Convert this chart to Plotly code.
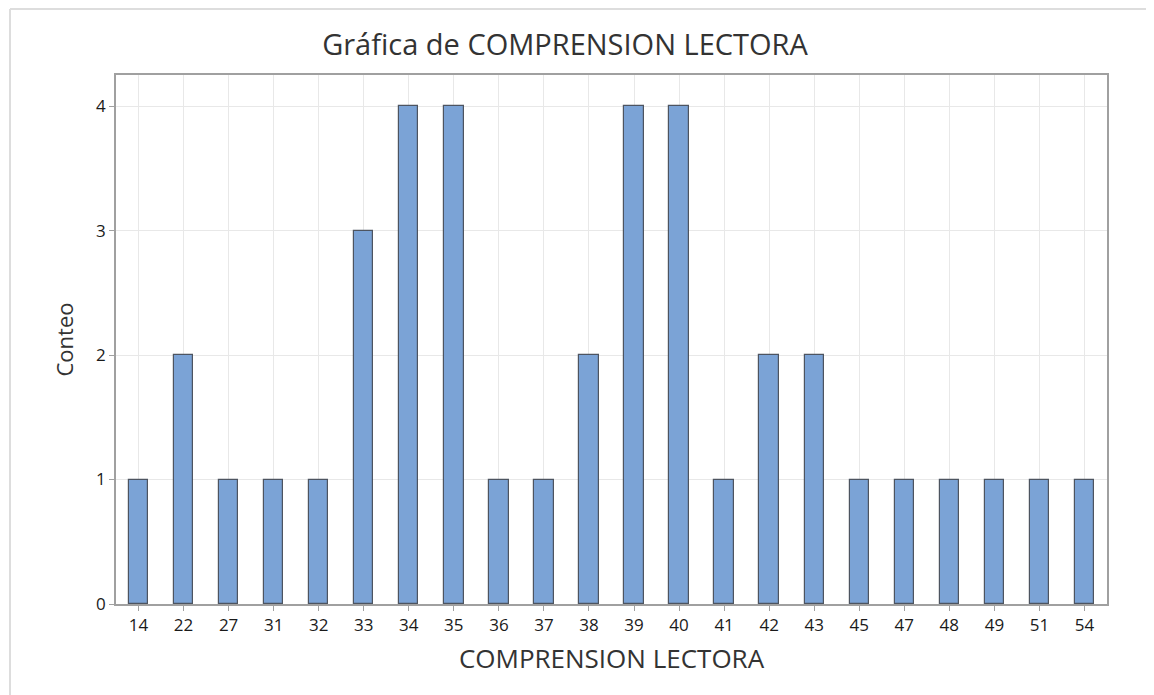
import plotly.graph_objects as go

categories = ["14", "22", "27", "31", "32", "33", "34", "35", "36", "37", "38",
              "39", "40", "41", "42", "43", "45", "47", "48", "49", "51", "54"]
counts = [1, 2, 1, 1, 1, 3, 4, 4, 1, 1, 2, 4, 4, 1, 2, 2, 1, 1, 1, 1, 1, 1]
y_ticks = [0, 1, 2, 3, 4]

# page has an 8px body margin; figure sized to fill the rest of the window
OFF = 8
W, H = 1154 - OFF, 695 - OFF
L, R, T, B = 116 - OFF, 47, 75 - OFF, 91
pw, ph = W - L - R, H - T - B

fig = go.Figure(go.Bar(
    x=categories, y=counts, width=0.43,
    marker=dict(color="#7BA3D6", line=dict(color="#4d5460", width=1.2)),
))

def px_x(p):
    return (p - L) / pw

def px_y(p):
    return (H - B - p) / ph

fig.update_layout(
    width=W, height=H,
    margin=dict(l=L, r=R, t=T, b=B),
    paper_bgcolor="white", plot_bgcolor="white",
    font=dict(family="Open Sans, Noto Sans, sans-serif", color="#333333"),
    title=dict(text="Gráfica de COMPRENSION LECTORA", x=(565 - OFF) / W, xanchor="center",
               y=1 - (45 - OFF) / H, yanchor="middle", font=dict(size=29, color="#333333")),
    showlegend=False,
    bargap=0,
    xaxis=dict(
        type="category", range=[-0.5, len(categories) - 0.5],
        showgrid=True, gridcolor="#e8e8e8", gridwidth=1,
        showline=True, linecolor="#a0a0a0", linewidth=1.5, mirror=True,
        ticks="outside", ticklen=5, tickcolor="#a0a0a0",
        tickfont=dict(size=17, color="#1a1a1a"),
        title=dict(text="COMPRENSION LECTORA", font=dict(size=26, color="#333333"), standoff=15),
    ),
    yaxis=dict(
        range=[0, 4.25], tickvals=y_ticks,
        showgrid=True, gridcolor="#e8e8e8", gridwidth=1, zeroline=False,
        showline=True, linecolor="#a0a0a0", linewidth=1.5, mirror=True,
        ticks="outside", ticklen=5, tickcolor="#a0a0a0",
        tickfont=dict(size=17, color="#1a1a1a"),
        title=dict(text="Conteo", font=dict(size=22, color="#333333"), standoff=16),
    ),
    shapes=[
        dict(type="line", xref="paper", yref="paper",
             x0=px_x(2), x1=px_x(W + 5), y0=px_y(1), y1=px_y(1),
             line=dict(color="#dddddd", width=2)),
        dict(type="line", xref="paper", yref="paper",
             x0=px_x(2), x1=px_x(2), y0=px_y(1), y1=px_y(H + 5),
             line=dict(color="#dddddd", width=2)),
    ],
)

fig.write_html("out.html")
